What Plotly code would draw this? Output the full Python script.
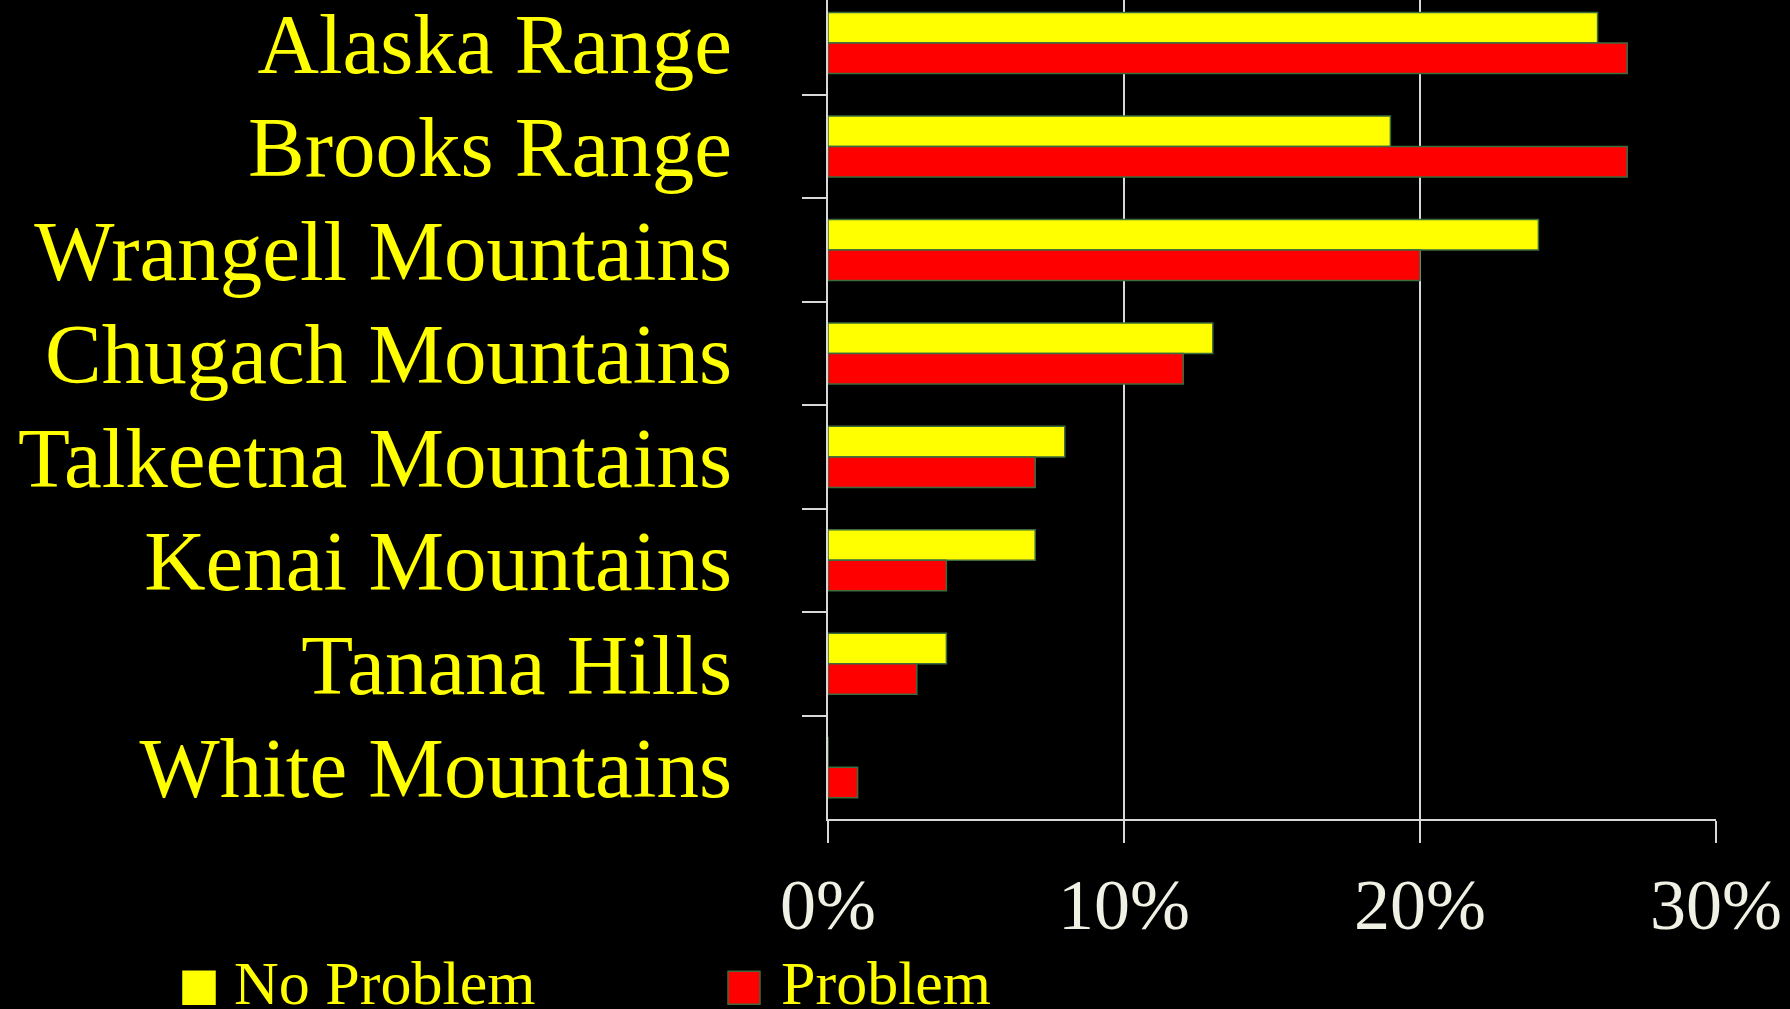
import plotly.graph_objects as go

categories = ["Alaska Range", "Brooks Range", "Wrangell Mountains", "Chugach Mountains",
              "Talkeetna Mountains", "Kenai Mountains", "Tanana Hills", "White Mountains"]
no_problem = [26, 19, 24, 13, 8, 7, 4, 0]
problem = [27, 27, 20, 12, 7, 4, 3, 1]
x_ticks = [0, 10, 20, 30]
x_tick_labels = ["0%", "10%", "20%", "30%"]
series_names = ["No Problem", "Problem"]

W, H = 1790, 1009
L, R, T, B = 828, 1716, 0, 818.7
FONT = "Liberation Serif, Times New Roman, serif"
YELLOW = "#FFFF00"
RED = "#FF0000"
OUTLINE = "#3d6b3d"
AXIS = "#d8d8d8"

def px(x):
    return (x - L) / (R - L)

def py(y):
    return (B - y) / (B - T)

fig = go.Figure()
fig.add_trace(go.Bar(y=categories, x=no_problem, name=series_names[0], orientation="h",
                     marker=dict(color=YELLOW, line=dict(color=OUTLINE, width=1.5)),
                     showlegend=False))
fig.add_trace(go.Bar(y=categories, x=problem, name=series_names[1], orientation="h",
                     marker=dict(color=RED, line=dict(color=OUTLINE, width=1.5)),
                     showlegend=False))

# manual legend (large symbols)
legend_items = [(183, 232, YELLOW, series_names[0]), (728, 779, RED, series_names[1])]
for sx, tx, col, name in legend_items:
    fig.add_shape(type="rect", xref="paper", yref="paper",
                  x0=px(sx), x1=px(sx + 32), y0=py(1004), y1=py(971),
                  fillcolor=col, line=dict(color=OUTLINE if col == RED else col, width=1.5))
    fig.add_annotation(xref="paper", yref="paper", x=px(tx), y=py(983),
                       xanchor="left", yanchor="middle", text=name, showarrow=False,
                       font=dict(family=FONT, size=62, color=YELLOW))

fig.update_layout(
    width=W, height=H,
    margin=dict(l=L, r=W - R, t=T, b=H - B, pad=0),
    paper_bgcolor="black", plot_bgcolor="black",
    barmode="group", bargap=0.41, bargroupgap=0,
    showlegend=False,
)
fig.update_xaxes(range=[0, 30], tickmode="array", tickvals=x_ticks, ticktext=x_tick_labels,
                 showgrid=True, gridcolor=AXIS, gridwidth=1.5, zeroline=False,
                 showline=True, linecolor=AXIS, linewidth=2,
                 ticks="outside", ticklen=22, tickwidth=2, tickcolor=AXIS,
                 tickfont=dict(family=FONT, size=72, color="#f0f0e4"),
                 automargin=False)
fig.update_yaxes(range=[7.5, -0.416], categoryorder="array", categoryarray=categories,
                 showgrid=False, zeroline=False,
                 showline=True, linecolor=AXIS, linewidth=2,
                 ticks="outside", tickson="boundaries", ticklen=24, tickwidth=2, tickcolor=AXIS,
                 tickfont=dict(family=FONT, size=85, color=YELLOW),
                 ticklabelstandoff=77,
                 automargin=False)

fig.write_html("out.html", config={"displayModeBar": False},
               post_script="document.body.style.margin='0';document.body.style.background='black';document.body.style.overflow='hidden';")
